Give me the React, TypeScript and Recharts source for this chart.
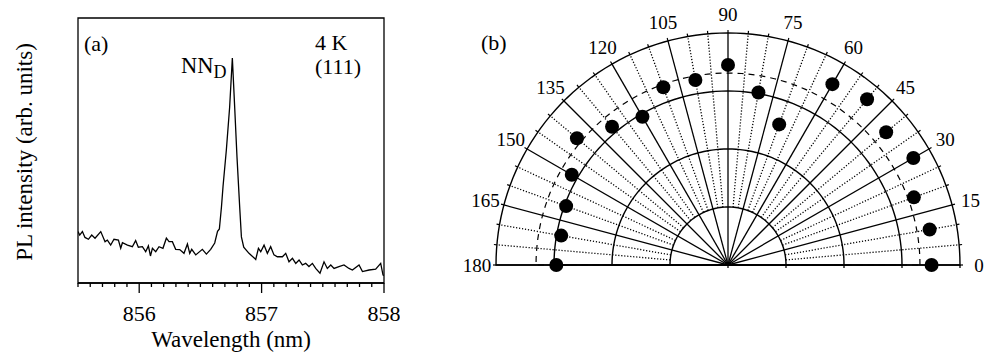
import React from "react";
import {
  LineChart,
  Line,
  XAxis,
  YAxis,
  ReferenceArea,
  RadarChart,
  Radar,
  PolarGrid,
  PolarAngleAxis,
  PolarRadiusAxis,
} from "recharts";

const SERIF = '"Liberation Serif", "Times New Roman", serif';

// (a) PL spectrum, wavelength (nm) vs intensity (arb. units, 0-100)
const wavelength = [
  855.5, 855.514, 855.536, 855.557, 855.585, 855.612, 855.639, 855.686, 855.721, 855.74,
  855.767, 855.794, 855.83, 855.849, 855.863, 855.904, 855.944, 855.971, 855.993, 856.026,
  856.053, 856.075, 856.092, 856.108, 856.135, 856.162, 856.194, 856.222, 856.244, 856.271,
  856.298, 856.331, 856.366, 856.394, 856.413, 856.429, 856.462, 856.516, 856.549, 856.584,
  856.617, 856.64, 856.655, 856.672, 856.685, 856.712, 856.739, 856.761, 856.78, 856.799,
  856.821, 856.835, 856.854, 856.897, 856.952, 856.974, 856.993, 857.02, 857.047, 857.074,
  857.101, 857.129, 857.17, 857.197, 857.224, 857.252, 857.279, 857.306, 857.333, 857.36,
  857.387, 857.415, 857.442, 857.477, 857.51, 857.537, 857.565, 857.592, 857.632, 857.673,
  857.714, 857.742, 857.796, 857.824, 857.878, 857.932, 857.973, 857.992, 858.0,
];
const intensity = [
  19.4, 18.1, 19.4, 17.2, 16.5, 18.1, 16.9, 19.4, 15.6, 16.2,
  14.3, 16.5, 16.2, 13.1, 15.2, 14.3, 13.7, 16.0, 13.5, 13.7,
  11.8, 14.0, 10.2, 13.1, 11.8, 13.7, 13.1, 16.9, 15.6, 15.6,
  12.7, 12.6, 11.2, 14.7, 11.2, 12.7, 10.6, 12.7, 10.9, 12.7,
  15.1, 19.5, 20.4, 28.7, 36.5, 50.2, 66.4, 84.9, 66.4, 47.5,
  28.7, 17.4, 13.5, 11.2, 8.9, 13.1, 11.8, 14.3, 11.2, 13.7,
  10.6, 9.9, 9.9, 11.2, 8.0, 9.3, 7.4, 8.7, 6.8, 7.4,
  6.2, 7.4, 5.5, 3.7, 8.0, 5.5, 6.8, 5.5, 6.2, 6.8,
  5.5, 4.9, 6.8, 4.3, 4.9, 5.2, 7.4, 3.0, 2.9,
];
const wlMinorTicks = [
  855.5, 855.6, 855.7, 855.8, 855.9, 856.0, 856.1, 856.2, 856.3, 856.4, 856.5, 856.6, 856.7,
  856.8, 856.9, 857.0, 857.1, 857.2, 857.3, 857.4, 857.5, 857.6, 857.7, 857.8, 857.9, 858.0,
];
const wlMajorTicks = [856, 857, 858];

// (b) polar plot, angle (deg) vs intensity (rings 1..4)
const polarAngle = [0, 10, 20, 30, 40, 50, 60, 70, 80, 90, 100, 110, 120, 130, 140, 150, 160, 170, 180];
const polarValue = [3.51, 3.53, 3.41, 3.69, 3.56, 3.73, 3.6, 2.58, 3.02, 3.45, 3.24, 3.26, 2.95, 3.11, 3.4, 3.11, 2.97, 2.92, 2.96];
const fitValue = 3.31;
const ringTicks = [0, 1, 2, 3, 4];
const angleTicks = [
  0, 5, 10, 15, 20, 25, 30, 35, 40, 45, 50, 55, 60, 65, 70, 75, 80, 85, 90,
  95, 100, 105, 110, 115, 120, 125, 130, 135, 140, 145, 150, 155, 160, 165, 170, 175, 180,
];
const angleLabels = [0, 15, 30, 45, 60, 75, 90, 105, 120, 135, 150, 165, 180];

const spectrum = wavelength.map((wl, i) => ({ wl, I: intensity[i] }));
const polarData = polarAngle.map((angle, i) => ({ angle, r: polarValue[i] }));
const dottedAngles = angleTicks.filter((a) => !angleLabels.includes(a));
const arcAngles = Array.from({ length: 91 }, (_, i) => i * 2);

const CX = 278;
const CY = 265;
const OUTER = 232;
const R_MAX = 4;

function WlTick(props: any) {
  const { x, y, payload } = props;
  const v = payload.value;
  const major = wlMajorTicks.some((m) => Math.abs(m - v) < 1e-6);
  return (
    <g>
      <line x1={x} y1={y} x2={x} y2={y + (major ? 10 : 4)} stroke="#000" strokeWidth={1.3} />
      {major && (
        <text x={x} y={y + 38} textAnchor="middle" fontSize={22} fontFamily={SERIF} fill="#000">
          {Math.round(v)}
        </text>
      )}
    </g>
  );
}

function AngleTick(props: any) {
  const { x, y, payload } = props;
  if (!angleLabels.includes(payload.value)) return <g />;
  const rad = (payload.coordinate * Math.PI) / 180;
  const d = 16;
  return (
    <text
      x={x + d * Math.cos(rad)}
      y={y - d * Math.sin(rad)}
      textAnchor="middle"
      dominantBaseline="central"
      fontSize={19}
      fontFamily={SERIF}
      fill="#000"
    >
      {payload.value}
    </text>
  );
}

function RingTick(props: any) {
  const { x, y } = props;
  return <line x1={x} y1={y} x2={x} y2={y + 3} stroke="#000" strokeWidth={1.3} />;
}

export default function App() {
  return (
    <div style={{ position: "relative", width: 986, height: 353, background: "#fff" }}>
      <style>{"body{margin:0}"}</style>

      <div style={{ position: "absolute", left: 0, top: 0 }}>
        <LineChart width={400} height={353} data={spectrum} margin={{ top: 18, right: 16, bottom: 0, left: 78 }}>
          <XAxis
            dataKey="wl"
            type="number"
            domain={[855.5, 858]}
            allowDataOverflow
            ticks={wlMinorTicks}
            interval={0}
            height={70}
            tickSize={0}
            tickMargin={0}
            tickLine={false}
            tick={<WlTick />}
            axisLine={{ stroke: "#000", strokeWidth: 1.3 }}
          />
          <YAxis domain={[0, 100]} hide />
          <ReferenceArea
            x1={855.5}
            x2={858}
            y1={0}
            y2={100}
            stroke="#000"
            strokeWidth={1.3}
            fill="none"
            fillOpacity={0}
            ifOverflow="visible"
          />
          <Line type="linear" dataKey="I" stroke="#000" strokeWidth={1.3} dot={false} isAnimationActive={false} />
        </LineChart>
      </div>

      {/* dotted 5 degree lines, from the first ring outward */}
      <div style={{ position: "absolute", left: 450, top: 0 }}>
        <RadarChart
          width={536}
          height={353}
          data={polarData}
          cx={CX}
          cy={CY}
          innerRadius={OUTER / R_MAX}
          outerRadius={OUTER}
          startAngle={0}
          endAngle={180}
          margin={{ top: 0, right: 0, bottom: 0, left: 0 }}
        >
          <PolarGrid polarAngles={dottedAngles} polarRadius={[]} stroke="#000" strokeWidth={1.3} strokeDasharray="1.2 1.8" />
        </RadarChart>
      </div>

      <div style={{ position: "absolute", left: 450, top: 0 }}>
        <RadarChart
          width={536}
          height={353}
          data={polarData}
          cx={CX}
          cy={CY}
          innerRadius={0}
          outerRadius={OUTER}
          startAngle={0}
          endAngle={180}
          margin={{ top: 0, right: 0, bottom: 0, left: 0 }}
          style={{ overflow: "visible" }}
        >
          <PolarGrid polarAngles={angleLabels} polarRadius={[]} stroke="#000" strokeWidth={1.3} />
          <PolarGrid polarAngles={arcAngles} radialLines={false} stroke="#000" strokeWidth={1.4} />
          <PolarGrid
            polarAngles={arcAngles}
            polarRadius={[(fitValue / R_MAX) * OUTER]}
            radialLines={false}
            stroke="#000"
            strokeWidth={1.2}
            strokeDasharray="6 5"
          />
          <PolarAngleAxis
            dataKey="angle"
            type="number"
            domain={[0, 180]}
            ticks={angleTicks}
            tickSize={3}
            axisLine={false}
            tickLine={{ stroke: "#000", strokeWidth: 1.2 }}
            tick={<AngleTick />}
          />
          <PolarRadiusAxis angle={0} type="number" domain={[0, R_MAX]} ticks={ringTicks} axisLine={false} tick={<RingTick />} />
          <PolarRadiusAxis
            radiusAxisId={1}
            angle={180}
            type="number"
            domain={[0, R_MAX]}
            ticks={ringTicks}
            axisLine={false}
            tick={<RingTick />}
          />
          <Radar
            dataKey="r"
            stroke="none"
            fill="none"
            dot={{ r: 7, fill: "#000", stroke: "none" }}
            isAnimationActive={false}
          />
        </RadarChart>
      </div>

      <svg
        width={986}
        height={353}
        style={{ position: "absolute", left: 0, top: 0, pointerEvents: "none" }}
        fontFamily={SERIF}
        fill="#000"
      >
        <text transform="translate(32,152) rotate(-90)" textAnchor="middle" fontSize={23}>
          PL intensity (arb. units)
        </text>
        <text x={231} y={347} textAnchor="middle" fontSize={23}>
          Wavelength (nm)
        </text>
        <text x={84} y={51} fontSize={22}>(a)</text>
        <text x={315} y={50} fontSize={22}>4 K</text>
        <text x={315} y={74} fontSize={22}>(111)</text>
        <text x={181} y={73} fontSize={22.5}>
          NN<tspan fontSize={18} dy={5}>D</tspan>
        </text>
        <text x={481} y={50} fontSize={22}>(b)</text>
      </svg>
    </div>
  );
}
